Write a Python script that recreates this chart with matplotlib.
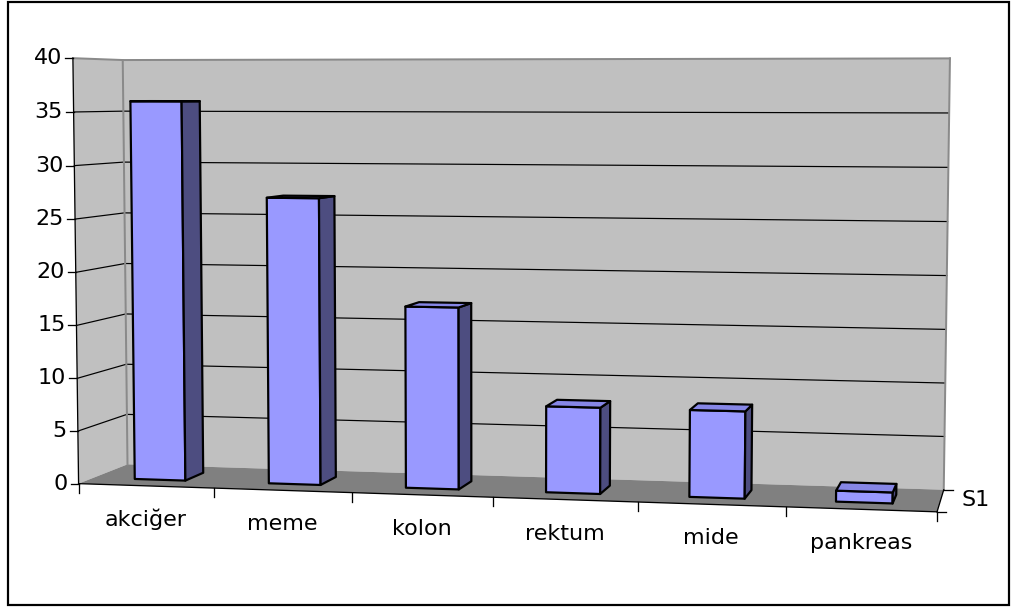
import numpy as np
import matplotlib
matplotlib.use("Agg")
import matplotlib.pyplot as plt
from matplotlib.patches import Polygon, Rectangle

# data
categories = ["akciğer", "meme", "kolon", "rektum", "mide", "pankreas"]
values = [36, 27, 17, 8, 8, 1]
series_name = "S1"
value_ticks = [0, 5, 10, 15, 20, 25, 30, 35, 40]
value_max = 40

# where the plot box sits on the canvas: (category, depth, value) -> pixel
box_anchors = [
    ((0, 0, 0), (78, 483)),
    ((0, 0, 20), (76, 272)),
    ((0, 0, 25), (75.7, 220)),
    ((0, 0, 40), (73, 58)),
    ((0, 1, 0), (128, 465)),
    ((0, 1, 20), (125, 264)),
    ((0, 1, 25), (125, 212)),
    ((0, 1, 40), (122, 60)),
    ((6, 1, 0), (943, 489)),
    ((6, 1, 20), (948, 276)),
    ((6, 1, 25), (948, 222)),
    ((6, 1, 40), (949, 58)),
    ((6, 0, 0), (937, 512)),
    ((1, 0, 0), (213, 488)),
    ((5, 0, 0), (786, 507)),
]

n = len(categories)


def fit_camera(anchors):
    # plain DLT on normalised coordinates
    rows = []
    for (X, Y, Z), (u, v) in anchors:
        X, Z = X / n, Z / value_max
        u, v = u / 1000.0, v / 1000.0
        rows.append([X, Y, Z, 1, 0, 0, 0, 0, -u * X, -u * Y, -u * Z, -u])
        rows.append([0, 0, 0, 0, X, Y, Z, 1, -v * X, -v * Y, -v * Z, -v])
    _, _, vt = np.linalg.svd(np.array(rows, dtype=float))
    return vt[-1].reshape(3, 4)


P = fit_camera(box_anchors)


def proj(X, Y, Z):
    p = P @ np.array([X / n, Y, Z / value_max, 1.0])
    return p[0] / p[2] * 1000.0, p[1] / p[2] * 1000.0


def face(pts, **kw):
    return Polygon([proj(*p) for p in pts], closed=True, **kw)


fig = plt.figure(figsize=(10.12, 6.10), dpi=100)
ax = fig.add_axes([0, 0, 1, 1])
ax.set_xlim(0, 1012)
ax.set_ylim(610, 0)
ax.axis("off")

px = 0.72  # one pixel in points
font = dict(family="DejaVu Sans", size=16, color="black")

# outer frame
ax.add_patch(Rectangle((8, 2), 1001, 603, fill=False, ec="black", lw=2.2 * px, zorder=10))

wall = "#c0c0c0"
floor = "#808080"
edge = "#8a8a8a"

# walls and floor
ax.add_patch(face([(0, 0, 0), (0, 1, 0), (0, 1, value_max), (0, 0, value_max)],
                  fc=wall, ec="none", zorder=1))
ax.add_patch(face([(0, 1, 0), (n, 1, 0), (n, 1, value_max), (0, 1, value_max)],
                  fc=wall, ec="none", zorder=1))
ax.add_patch(face([(0, 0, 0), (n, 0, 0), (n, 1, 0), (0, 1, 0)],
                  fc=floor, ec="none", zorder=2))

# gridlines on left and back wall
for z in value_ticks[1:-1]:
    pts = [proj(0, 0, z), proj(0, 1, z), proj(n, 1, z)]
    ax.plot([p[0] for p in pts], [p[1] for p in pts], color="black", lw=1.2 * px, zorder=2)

# wall edges
for seg in [[(0, 0, value_max), (0, 1, value_max), (n, 1, value_max)],
            [(0, 1, 0), (0, 1, value_max)],
            [(n, 1, 0), (n, 1, value_max)]]:
    pts = [proj(*p) for p in seg]
    ax.plot([p[0] for p in pts], [p[1] for p in pts], color=edge, lw=2 * px, zorder=2)

# value axis
u0, v0 = proj(0, 0, 0)
u1, v1 = proj(0, 0, value_max)
ax.plot([u0, u1], [v0, v1], color="black", lw=1.3 * px, zorder=4)
for z in value_ticks:
    u, v = proj(0, 0, z)
    ax.plot([u - 8, u], [v, v], color="black", lw=1.3 * px, zorder=4)
    ax.text(u - 11, v, str(z), ha="right", va="center", **font)

# category axis
u0, v0 = proj(0, 0, 0)
u1, v1 = proj(n, 0, 0)
ax.plot([u0, u1], [v0, v1], color="black", lw=1.3 * px, zorder=4)
for i in range(n + 1):
    u, v = proj(i, 0, 0)
    ax.plot([u, u], [v, v + 9], color="black", lw=1.3 * px, zorder=4)
for i, name in enumerate(categories):
    u, v = proj(i + 0.5, 0, 0)
    ax.text(u, v + 40, name, ha="center", va="baseline", **font)

# depth axis
u0, v0 = proj(n, 0, 0)
u1, v1 = proj(n, 1, 0)
ax.plot([u0, u1], [v0, v1], color="black", lw=1.3 * px, zorder=4)
for y in (0, 1):
    u, v = proj(n, y, 0)
    ax.plot([u, u + 9], [v, v], color="black", lw=1.3 * px, zorder=4)
u, v = proj(n, 0.5, 0)
ax.text(u + 21, v, series_name, ha="left", va="center", **font)

# bars: front, right side, top
front_c = "#9999ff"
side_c = "#4d4d80"
top_c = "#8686e6"
w0, w1 = 0.31, 0.69
d0, d1 = 0.3, 0.7
for i, val in enumerate(values):
    x0, x1 = i + w0, i + w1
    kw = dict(ec="black", lw=2.2 * px, joinstyle="round", zorder=5)
    ax.add_patch(face([(x0, d0, 0), (x1, d0, 0), (x1, d0, val), (x0, d0, val)], fc=front_c, **kw))
    ax.add_patch(face([(x1, d0, 0), (x1, d1, 0), (x1, d1, val), (x1, d0, val)], fc=side_c, **kw))
    ax.add_patch(face([(x0, d0, val), (x1, d0, val), (x1, d1, val), (x0, d1, val)], fc=top_c, **kw))

fig.savefig("out.png", dpi=100)
